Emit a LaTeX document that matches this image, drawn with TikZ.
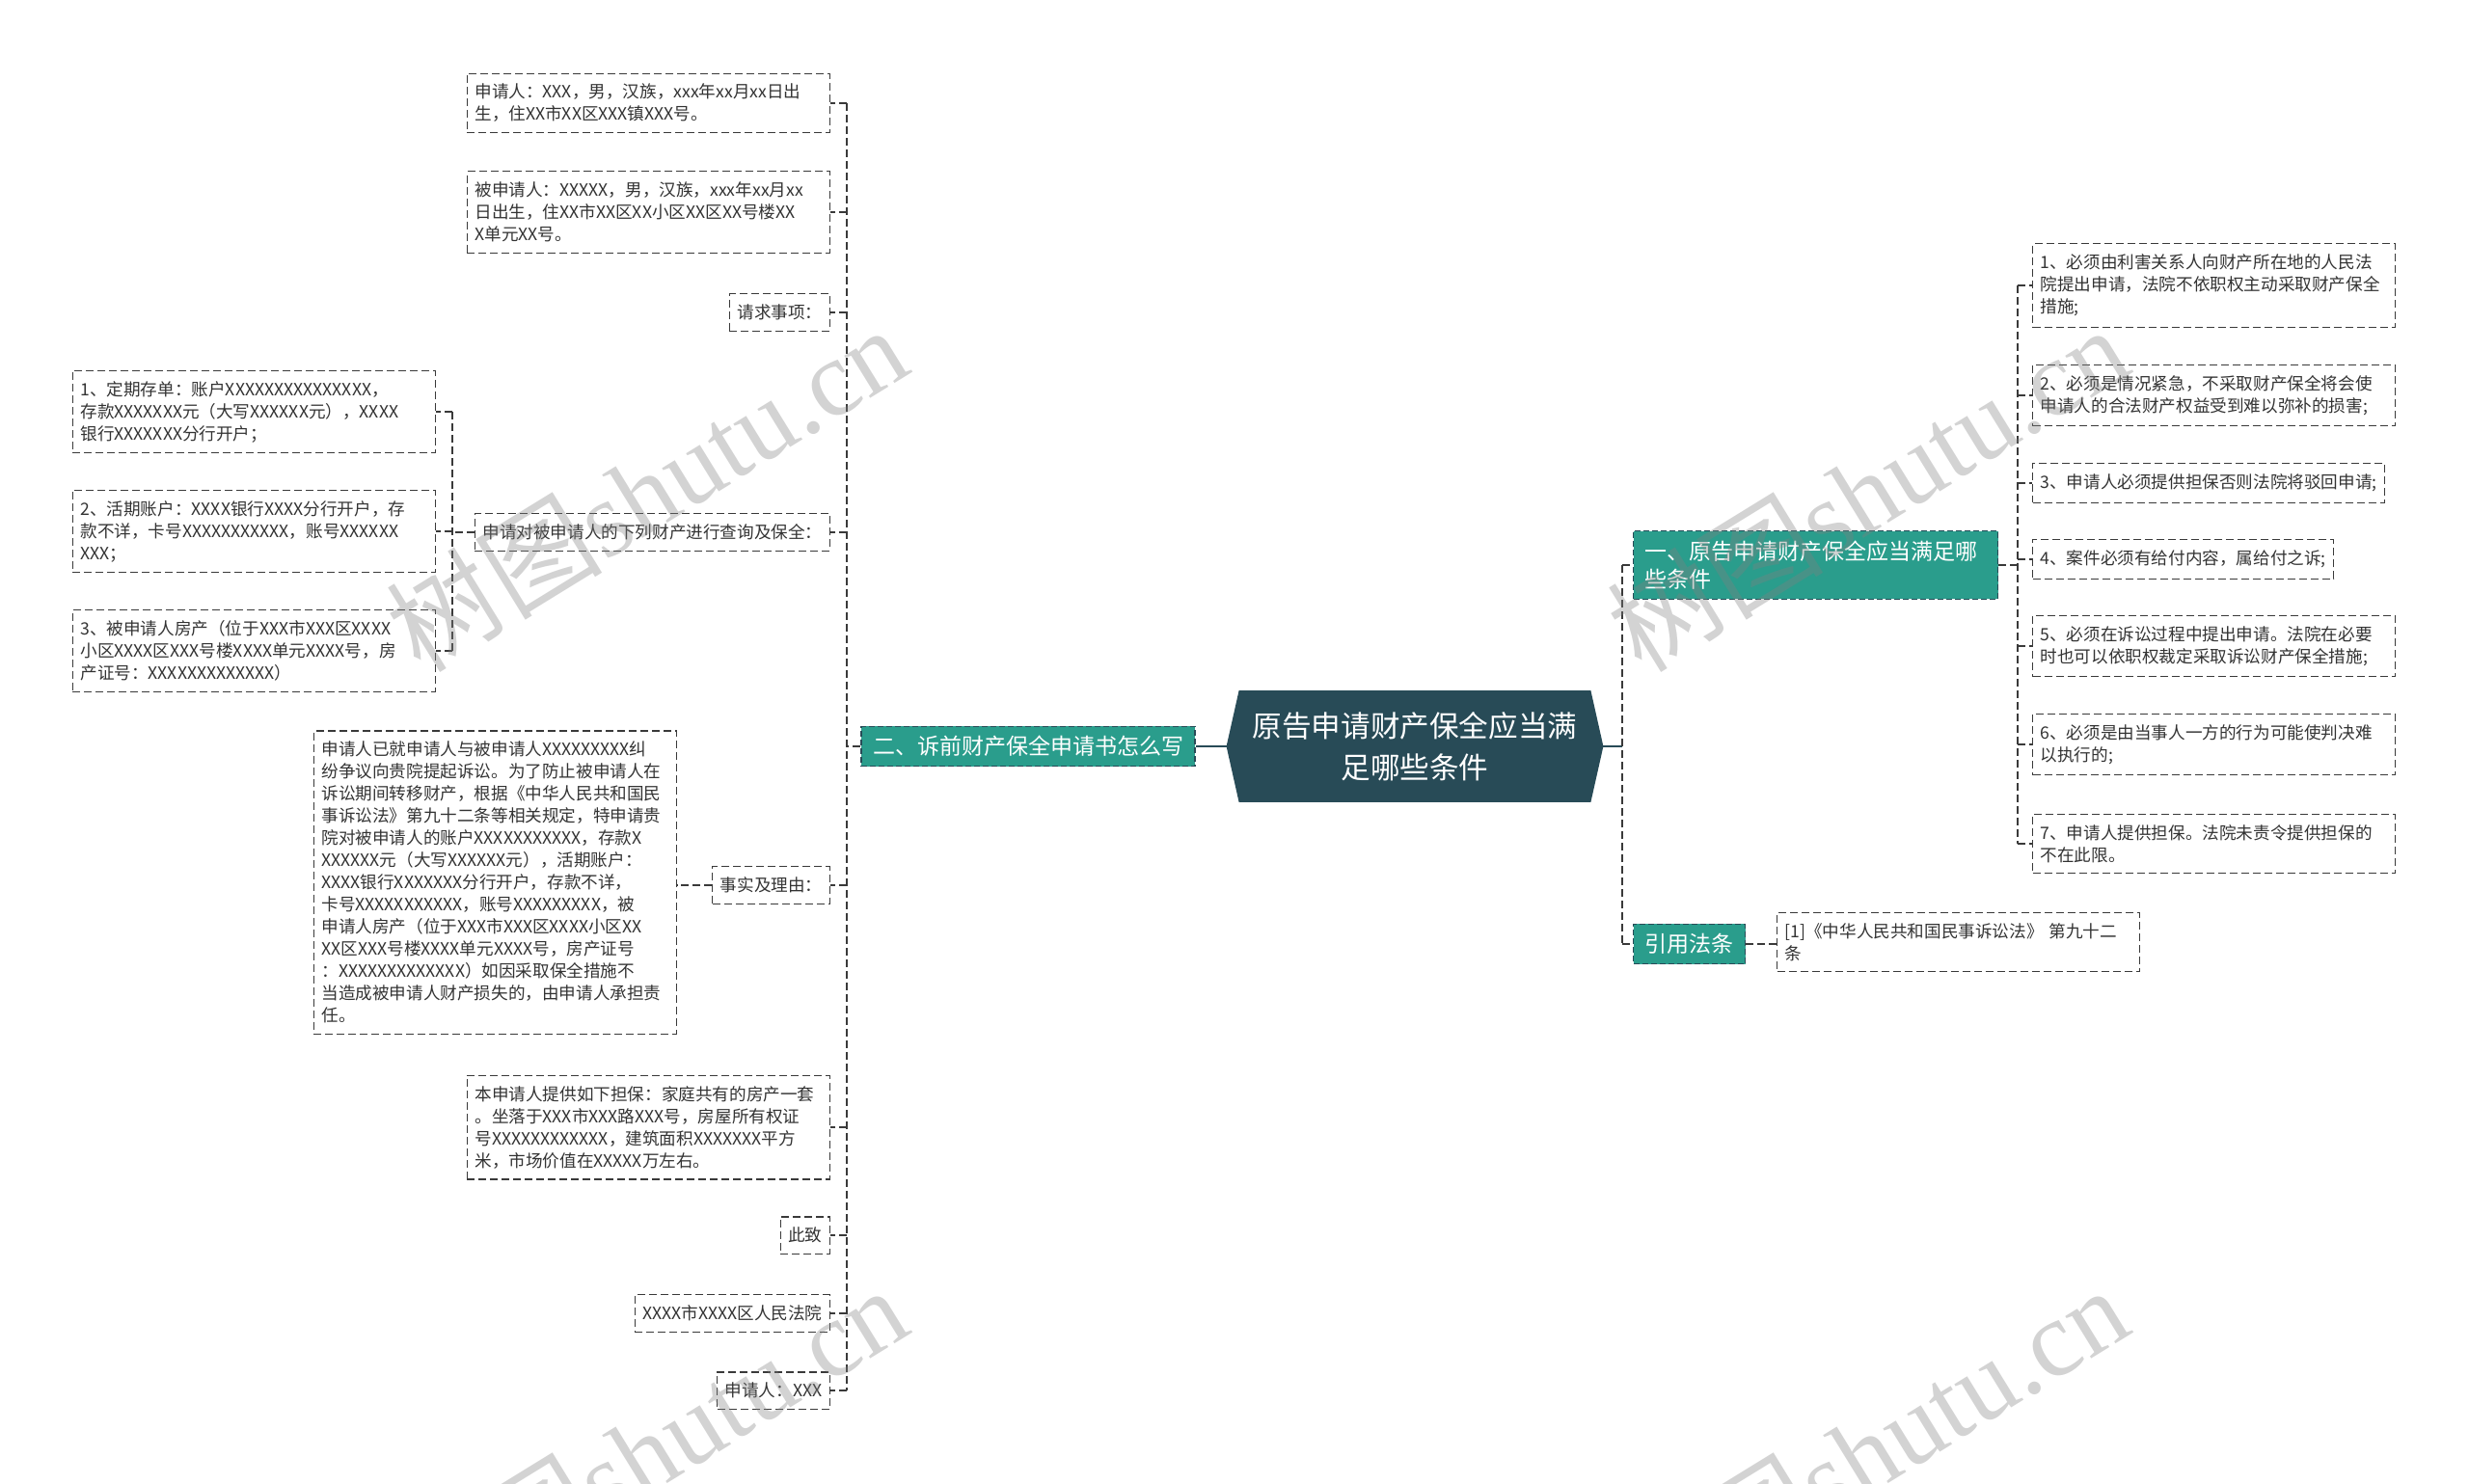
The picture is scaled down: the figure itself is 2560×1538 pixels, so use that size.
\documentclass[tikz,border=0pt]{standalone}
\usepackage{fontspec}
\setmainfont{Noto Sans CJK SC}
\newfontfamily\wmlatin{Liberation Serif}
\usetikzlibrary{backgrounds}

\definecolor{slate}{HTML}{284B57}
\definecolor{branchteal}{HTML}{2A9D8C}
\definecolor{inkgray}{HTML}{333333}
\definecolor{linegray}{HTML}{3A3A3A}

\begin{document}
\begin{tikzpicture}[x=0.5pt,y=-0.5pt,
  leaf/.style={draw=linegray,dash pattern=on 4pt off 2pt,line width=0.6pt,text=inkgray,
    font=\fontsize{8.8}{11.5}\selectfont,align=left,inner xsep=4pt,inner ysep=5.5pt},
  wide/.style={leaf,text width=180pt},
  branch/.style={fill=branchteal,draw=slate,dash pattern=on 3pt off 1.5pt,line width=0.6pt,
    text=white,font=\fontsize{11.5}{14.5}\selectfont,align=left,inner xsep=6pt,inner ysep=5pt},
  link/.style={draw=linegray,dash pattern=on 4pt off 2pt,line width=0.6pt},
  trunk/.style={draw=slate,line width=1pt},
  wmark/.style={rotate=31.6,text=black!50,opacity=0.35,font=\fontsize{56}{60}\selectfont}
]

  % fix the page to the reference size
  \useasboundingbox (0,0) rectangle (2560,1538);

  % central topic
  \node[text=white,font=\fontsize{15.3}{21.5}\selectfont,align=center,
        minimum width=195pt,minimum height=57.5pt] (ctr) at (1467,774)
        {原告申请财产保全应当满\\足哪些条件};
  \begin{scope}[on background layer]
    \fill[slate] (ctr.west) -- ([xshift=6.5pt]ctr.north west) -- ([xshift=-6.5pt]ctr.north east)
      -- (ctr.east) -- ([xshift=-6.5pt]ctr.south east) -- ([xshift=6.5pt]ctr.south west) -- cycle;
  \end{scope}

  % main branches
  \node[branch] (lb) at (1066,774) {二、诉前财产保全申请书怎么写};
  \node[branch,anchor=west,text width=177pt] (rb1) at (1693,586) {一、原告申请财产保全应当满足哪\\些条件};
  \node[branch,anchor=west] (rb2) at (1693,979) {引用法条};

  % left leaves
  \node[wide,anchor=east] (l1) at (861,107) {申请人：XXX，男，汉族，xxx年xx月xx日出\\生，住XX市XX区XXX镇XXX号。};
  \node[wide,anchor=east] (l2) at (861,220) {被申请人：XXXXX，男，汉族，xxx年xx月xx\\日出生，住XX市XX区XX小区XX区XX号楼XX\\X单元XX号。};
  \node[leaf,anchor=east] (l3) at (861,324) {请求事项：};
  \node[leaf,anchor=east] (l4) at (861,552) {申请对被申请人的下列财产进行查询及保全：};
  \node[leaf,anchor=east] (l5) at (861,918) {事实及理由：};
  \node[wide,anchor=east] (l6) at (861,1169) {本申请人提供如下担保：家庭共有的房产一套\\。坐落于XXX市XXX路XXX号，房屋所有权证\\号XXXXXXXXXXXX，建筑面积XXXXXXX平方\\米，市场价值在XXXXX万左右。};
  \node[leaf,anchor=east] (l7) at (861,1281) {此致};
  \node[leaf,anchor=east] (l8) at (861,1362) {XXXX市XXXX区人民法院};
  \node[leaf,anchor=east] (l9) at (861,1442) {申请人：XXX};

  % property list
  \node[wide,anchor=east] (l4a) at (452,427) {1、定期存单：账户XXXXXXXXXXXXXXX，\\存款XXXXXXX元（大写XXXXXX元），XXXX\\银行XXXXXXX分行开户；};
  \node[wide,anchor=east] (l4b) at (452,551) {2、活期账户：XXXX银行XXXX分行开户，存\\款不详，卡号XXXXXXXXXXX，账号XXXXXX\\XXX；};
  \node[wide,anchor=east] (l4c) at (452,675) {3、被申请人房产（位于XXX市XXX区XXXX\\小区XXXX区XXX号楼XXXX单元XXXX号，房\\产证号：XXXXXXXXXXXXX）};

  % facts and reasons
  \node[wide,anchor=east] (l5c) at (702,915) {申请人已就申请人与被申请人XXXXXXXXX纠\\纷争议向贵院提起诉讼。为了防止被申请人在\\诉讼期间转移财产，根据《中华人民共和国民\\事诉讼法》第九十二条等相关规定，特申请贵\\院对被申请人的账户XXXXXXXXXXX，存款X\\XXXXXX元（大写XXXXXX元），活期账户：\\XXXX银行XXXXXXX分行开户，存款不详，\\卡号XXXXXXXXXXX，账号XXXXXXXXX，被\\申请人房产（位于XXX市XXX区XXXX小区XX\\XX区XXX号楼XXXX单元XXXX号，房产证号\\：XXXXXXXXXXXXX）如因采取保全措施不\\当造成被申请人财产损失的，由申请人承担责\\任。};

  % right leaves
  \node[wide,anchor=west] (r1a) at (2107,296) {1、必须由利害关系人向财产所在地的人民法\\院提出申请，法院不依职权主动采取财产保全\\措施;};
  \node[wide,anchor=west] (r1b) at (2107,410) {2、必须是情况紧急，不采取财产保全将会使\\申请人的合法财产权益受到难以弥补的损害;};
  \node[leaf,anchor=west] (r1c) at (2107,501) {3、申请人必须提供担保否则法院将驳回申请;};
  \node[leaf,anchor=west] (r1d) at (2107,580) {4、案件必须有给付内容，属给付之诉;};
  \node[wide,anchor=west] (r1e) at (2107,670) {5、必须在诉讼过程中提出申请。法院在必要\\时也可以依职权裁定采取诉讼财产保全措施;};
  \node[wide,anchor=west] (r1f) at (2107,772) {6、必须是由当事人一方的行为可能使判决难\\以执行的;};
  \node[wide,anchor=west] (r1g) at (2107,875) {7、申请人提供担保。法院未责令提供担保的\\不在此限。};
  \node[wide,anchor=west] (rb2c) at (1842,977) {[1]《中华人民共和国民事诉讼法》 第九十二\\条};

  % junction points
  \coordinate (lj) at (878,774);
  \coordinate (l4j) at (469,552);
  \coordinate (rj) at (1682,774);
  \coordinate (r1j) at (2092,586);

  % center to branches
  \draw[trunk] (ctr.west) -- (lb.east);
  \draw[trunk] (ctr.east) -- (rj);

  % left tree
  \draw[link] (lb.west) -- (lj);
  \draw[link] (l1.east -| lj) -- (l9.east -| lj);
  \foreach \n in {l1,l2,l3,l4,l5,l6,l7,l8,l9}
    \draw[link] (lj |- \n.east) -- (\n.east);
  \draw[link] (l4.west) -- (l4j);
  \draw[link] (l4a.east -| l4j) -- (l4c.east -| l4j);
  \foreach \n in {l4a,l4b,l4c}
    \draw[link] (l4j |- \n.east) -- (\n.east);
  \draw[link] (l5.west) -- (l5.west -| l5c.east);

  % right tree
  \draw[link] (rb1.west -| rj) -- (rb2.west -| rj);
  \foreach \n in {rb1,rb2}
    \draw[link] (rj |- \n.west) -- (\n.west);
  \draw[link] (rb1.east) -- (r1j);
  \draw[link] (r1a.west -| r1j) -- (r1g.west -| r1j);
  \foreach \n in {r1a,r1b,r1c,r1d,r1e,r1f,r1g}
    \draw[link] (r1j |- \n.west) -- (\n.west);
  \draw[link] (rb2.east) -- (rb2.east -| rb2c.west);

  % watermarks
  \foreach \wx/\wy in {670/506,1936/506,670/1502,1936/1502}
    \node[wmark] at (\wx,\wy) {树图{\wmlatin shutu.cn}};

\end{tikzpicture}
\end{document}
